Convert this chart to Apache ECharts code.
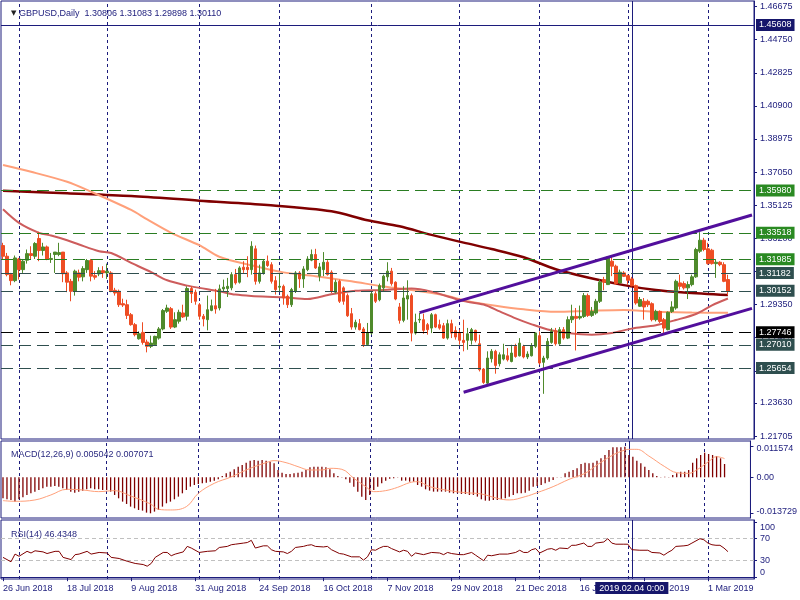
<!DOCTYPE html>
<html><head><meta charset="utf-8">
<script src="https://cdn.jsdelivr.net/npm/echarts@6/dist/echarts.min.js"></script>
<style>html,body{margin:0;padding:0;background:#fff}#c{width:800px;height:600px}</style>
</head><body><div id="c"></div><script>
// ---------- DATA ----------
const symbolName = 'GBPUSD,Daily';
// candles: [open, close, low, high]
const candles = [
[1.3278,1.3216,1.3197,1.3294],[1.3216,1.3109,1.3099,1.3235],[1.3109,1.3074,1.3047,1.3119],[1.3074,1.3206,1.3065,1.3220],
[1.3200,1.3138,1.3080,1.3206],[1.3138,1.3187,1.3119,1.3200],[1.3193,1.3231,1.3173,1.3255],[1.3231,1.3220,1.3200,1.3274],
[1.3216,1.3290,1.3200,1.3298],[1.3319,1.3249,1.3187,1.3358],[1.3249,1.3270,1.3220,1.3294],[1.3270,1.3200,1.3193,1.3278],
[1.3197,1.3203,1.3177,1.3235],[1.3226,1.3240,1.3119,1.3240],[1.3226,1.3237,1.3216,1.3294],[1.3240,1.3114,1.3065,1.3240],
[1.3119,1.3065,1.3007,1.3129],[1.3070,1.3012,1.2954,1.3084],[1.3012,1.3129,1.2987,1.3138],[1.3119,1.3094,1.3070,1.3138],
[1.3096,1.3144,1.3070,1.3158],[1.3138,1.3191,1.3119,1.3200],[1.3191,1.3100,1.3070,1.3200],[1.3103,1.3094,1.3080,1.3129],
[1.3113,1.3132,1.3100,1.3152],[1.3132,1.3119,1.3090,1.3158],[1.3119,1.3129,1.3084,1.3173],[1.3119,1.3016,1.3007,1.3129],
[1.3018,1.3002,1.2987,1.3032],[1.3012,1.2934,1.2921,1.3022],[1.2940,1.2932,1.2921,1.2969],[1.2934,1.2872,1.2851,1.2963],
[1.2876,1.2818,1.2812,1.2886],[1.2818,1.2760,1.2750,1.2828],[1.2736,1.2765,1.2731,1.2779],[1.2773,1.2715,1.2702,1.2832],
[1.2717,1.2692,1.2657,1.2731],[1.2692,1.2711,1.2682,1.2754],[1.2702,1.2750,1.2696,1.2754],[1.2740,1.2793,1.2731,1.2804],
[1.2793,1.2900,1.2785,1.2909],[1.2896,1.2915,1.2886,1.2934],[1.2911,1.2804,1.2793,1.2921],[1.2804,1.2847,1.2798,1.2890],
[1.2838,1.2890,1.2824,1.2905],[1.2886,1.2863,1.2857,1.2934],[1.2867,1.3028,1.2843,1.3041],[1.3028,1.2999,1.2944,1.3041],
[1.3007,1.2954,1.2934,1.3022],[1.2934,1.2867,1.2847,1.2944],[1.2867,1.2851,1.2808,1.2880],[1.2847,1.2905,1.2785,1.2987],
[1.2901,1.2928,1.2896,1.2964],[1.2928,1.2909,1.2882,1.3026],[1.2915,1.3026,1.2901,1.3051],[1.3026,1.3036,1.3012,1.3080],
[1.3028,1.3041,1.2979,1.3090],[1.3032,1.3109,1.3018,1.3123],[1.3109,1.3061,1.3051,1.3142],[1.3065,1.3148,1.3057,1.3158],
[1.3152,1.3138,1.3119,1.3187],[1.3152,1.3138,1.3094,1.3216],[1.3138,1.3274,1.3109,1.3303],[1.3259,1.3070,1.3051,1.3278],
[1.3070,1.3119,1.3057,1.3167],[1.3119,1.3187,1.3109,1.3200],[1.3187,1.3162,1.3154,1.3220],[1.3167,1.3070,1.3057,1.3181],
[1.3074,1.3022,1.2993,1.3100],[1.3036,1.3041,1.3012,1.3119],[1.3041,1.2973,1.2934,1.3051],[1.2983,1.2934,1.2915,1.2993],
[1.2934,1.3022,1.2921,1.3032],[1.3012,1.3119,1.3002,1.3129],[1.3119,1.3084,1.3032,1.3129],[1.3084,1.3142,1.3032,1.3158],
[1.3138,1.3200,1.3129,1.3216],[1.3193,1.3226,1.3187,1.3255],[1.3226,1.3148,1.3142,1.3259],[1.3100,1.3154,1.3070,1.3177],
[1.3138,1.3181,1.3100,1.3240],[1.3181,1.3109,1.3103,1.3193],[1.3123,1.3012,1.3002,1.3134],[1.3007,1.3065,1.2999,1.3080],
[1.3070,1.2954,1.2944,1.3080],[1.3032,1.2954,1.2934,1.3041],[1.2987,1.2870,1.2863,1.2999],[1.2882,1.2804,1.2789,1.2915],
[1.2804,1.2832,1.2789,1.2847],[1.2824,1.2789,1.2785,1.2851],[1.2793,1.2702,1.2688,1.2804],[1.2702,1.2769,1.2696,1.2828],
[1.2769,1.2998,1.2760,1.3007],[1.2998,1.2954,1.2944,1.3012],[1.2963,1.3045,1.2954,1.3057],[1.3032,1.3100,1.3012,1.3109],
[1.3096,1.3129,1.3070,1.3181],[1.3129,1.3057,1.3045,1.3148],[1.3065,1.2967,1.2960,1.3070],[1.2921,1.2843,1.2824,1.2944],
[1.2843,1.2973,1.2832,1.3041],[1.2967,1.2987,1.2847,1.3076],[1.2987,1.2769,1.2721,1.2999],[1.2769,1.2832,1.2760,1.2882],
[1.2845,1.2849,1.2828,1.2886],[1.2847,1.2785,1.2765,1.2882],[1.2818,1.2789,1.2760,1.2828],[1.2798,1.2876,1.2769,1.2886],
[1.2876,1.2804,1.2798,1.2882],[1.2818,1.2798,1.2789,1.2847],[1.2812,1.2740,1.2735,1.2828],[1.2740,1.2824,1.2731,1.2847],
[1.2824,1.2769,1.2740,1.2847],[1.2783,1.2746,1.2731,1.2808],[1.2769,1.2727,1.2702,1.2789],[1.2727,1.2715,1.2663,1.2847],
[1.2727,1.2765,1.2672,1.2799],[1.2727,1.2789,1.2702,1.2799],[1.2785,1.2727,1.2715,1.2789],[1.2707,1.2556,1.2546,1.2760],
[1.2560,1.2482,1.2474,1.2566],[1.2478,1.2624,1.2468,1.2663],[1.2620,1.2663,1.2598,1.2676],[1.2663,1.2581,1.2533,1.2672],
[1.2591,1.2643,1.2575,1.2657],[1.2618,1.2643,1.2610,1.2707],[1.2637,1.2614,1.2604,1.2682],[1.2604,1.2653,1.2599,1.2701],
[1.2692,1.2633,1.2626,1.2707],[1.2637,1.2711,1.2633,1.2740],[1.2692,1.2630,1.2622,1.2701],[1.2630,1.2647,1.2618,1.2663],
[1.2637,1.2696,1.2633,1.2711],[1.2692,1.2770,1.2682,1.2773],[1.2754,1.2595,1.2585,1.2779],[1.2599,1.2624,1.2416,1.2637],
[1.2624,1.2721,1.2614,1.2740],[1.2715,1.2779,1.2707,1.2799],[1.2783,1.2707,1.2696,1.2799],[1.2707,1.2789,1.2701,1.2804],
[1.2789,1.2740,1.2731,1.2804],[1.2740,1.2847,1.2734,1.2866],[1.2847,1.2866,1.2828,1.2934],[1.2866,1.2855,1.2668,1.2915],
[1.2857,1.2866,1.2847,1.2929],[1.2866,1.2987,1.2857,1.3002],[1.2987,1.2872,1.2863,1.2999],[1.2872,1.2895,1.2863,1.2921],
[1.2886,1.2954,1.2876,1.2968],[1.2954,1.3065,1.2944,1.3080],[1.3080,1.3065,1.3018,1.3096],[1.3051,1.3212,1.3049,1.3216],
[1.3187,1.3158,1.3100,1.3212],[1.3158,1.3057,1.3049,1.3167],[1.3061,1.3123,1.3057,1.3138],[1.3119,1.3099,1.3095,1.3129],
[1.3103,1.3076,1.3051,1.3109],[1.3084,1.3045,1.3041,1.3096],[1.3045,1.2944,1.2934,1.3051],[1.2925,1.2964,1.2921,1.2979],
[1.2954,1.2921,1.2847,1.2973],[1.2954,1.2934,1.2921,1.2964],[1.2940,1.2847,1.2837,1.2948],[1.2847,1.2895,1.2837,1.2905],
[1.2895,1.2837,1.2828,1.2901],[1.2847,1.2798,1.2769,1.2857],[1.2789,1.2890,1.2785,1.2895],[1.2895,1.2921,1.2886,1.2954],
[1.2915,1.3070,1.2905,1.3080],[1.3061,1.3041,1.3022,1.3109],[1.3057,1.3032,1.3022,1.3070],[1.3032,1.3051,1.2967,1.3070],
[1.3051,1.3096,1.3041,1.3109],[1.3096,1.3255,1.3090,1.3265],[1.3245,1.3309,1.3235,1.3356],[1.3309,1.3255,1.3245,1.3323],
[1.3259,1.3173,1.3167,1.3294],[1.3251,1.3173,1.3167,1.3259],[1.3173,1.3181,1.3090,1.3200],[1.3181,1.3167,1.3158,1.3187],
[1.3167,1.3070,1.3065,1.3181],[1.30806,1.30110,1.29898,1.31083]
];
// moving averages: [bar index, price]
const ma200 = [[0,1.3597],[16,1.3582],[32,1.3566],[49,1.3539],[66,1.3514],[82,1.3478],[91,1.3425],[99,1.3390],[107,1.3340],[115,1.3295],[122,1.3258],[130,1.3210],[138,1.3140],[146,1.3092],[155,1.3048],[163,1.3019],[170,1.3005],[181,1.2990]];
const ma100 = [[0,1.3746],[7,1.3707],[16,1.3649],[22,1.3591],[32,1.3485],[36,1.3430],[42,1.3352],[49,1.3280],[54,1.3213],[62,1.3163],[70,1.3122],[78,1.3100],[87,1.3070],[95,1.3040],[102,1.3020],[110,1.2990],[116,1.2955],[123,1.2928],[130,1.2907],[138,1.2893],[146,1.2898],[155,1.2903],[163,1.2893],[172,1.2889],[181,1.2887]];
const ma50 = [[0,1.3489],[4,1.3410],[9,1.3352],[12,1.3336],[16,1.3309],[19,1.3284],[24,1.3245],[27,1.3235],[32,1.3177],[37,1.3123],[41,1.3076],[46,1.3045],[49,1.3032],[54,1.3012],[58,1.2993],[62,1.2985],[70,1.2977],[76,1.2967],[82,1.2995],[88,1.3015],[95,1.3020],[102,1.3029],[107,1.3010],[115,1.2955],[120,1.2935],[124,1.2895],[128,1.2855],[132,1.2820],[136,1.2790],[141,1.2770],[147,1.2760],[152,1.2770],[157,1.2795],[163,1.2815],[168,1.2845],[173,1.2880],[177,1.2930],[181,1.2970]];
// channel trend lines: [bar index, price]
const channelUpper = [[104,1.2888],[187,1.3456]];
const channelLower = [[115,1.2425],[187,1.2913]];
// horizontal levels
const levelsGreen = [1.35980, 1.33518, 1.31985];
const levelsSlate = [1.31182, 1.30152, 1.27010, 1.25654];
const levelBlack = [1.27746];
const levelNavy = [1.45608];
// MACD histogram (main) per bar
const macdMain = [
-0.00794,-0.00832,-0.00857,-0.00920,-0.00832,-0.00756,-0.00668,-0.00605,-0.00542,-0.00479,
-0.00416,-0.00353,-0.00353,-0.00328,-0.00353,-0.00416,-0.00479,-0.00542,-0.00580,-0.00542,
-0.00504,-0.00454,-0.00416,-0.00454,-0.00454,-0.00479,-0.00479,-0.00542,-0.00668,-0.00794,
-0.00920,-0.01008,-0.01109,-0.01172,-0.01235,-0.01260,-0.01336,-0.01361,-0.01298,-0.01235,
-0.01109,-0.00983,-0.00920,-0.00832,-0.00731,-0.00605,-0.00479,-0.00353,-0.00290,-0.00252,
-0.00227,-0.00202,-0.00164,-0.00126,-0.00076,0.00050,0.00151,0.00214,0.00302,0.00403,
0.00466,0.00554,0.00630,0.00655,0.00630,0.00655,0.00630,0.00592,0.00529,0.00277,
0.00176,0.00126,0.00126,0.00151,0.00176,0.00214,0.00277,0.00378,0.00403,0.00403,
0.00403,0.00378,0.00302,0.00151,0.00050,-0.00010,-0.00076,-0.00202,-0.00353,-0.00542,
-0.00731,-0.00857,-0.00668,-0.00479,-0.00353,-0.00227,-0.00130,-0.00050,-0.00040,-0.00010,
-0.00126,-0.00126,-0.00164,-0.00164,-0.00290,-0.00353,-0.00454,-0.00504,-0.00542,-0.00542,
-0.00542,-0.00542,-0.00580,-0.00605,-0.00605,-0.00630,-0.00630,-0.00668,-0.00668,-0.00731,
-0.00832,-0.00882,-0.00882,-0.00857,-0.00857,-0.00832,-0.00794,-0.00731,-0.00668,-0.00605,
-0.00605,-0.00580,-0.00504,-0.00353,-0.00328,-0.00290,-0.00227,-0.00164,-0.00101,-0.00010,
0.00010,0.00151,0.00214,0.00277,0.00340,0.00504,0.00554,0.00529,0.00554,0.00630,
0.00718,0.00844,0.01033,0.01134,0.01134,0.01134,0.01159,0.00844,0.00781,0.00630,
0.00529,0.00403,0.00277,0.00151,0.00050,0.00010,0.00025,0.00010,0.00088,0.00151,
0.00214,0.00214,0.00277,0.00554,0.00718,0.00844,0.00932,0.00882,0.00844,0.00806,
0.00718,0.005042
];
// MACD signal: [bar index, value]
const macdSignal = [[0,-0.00882],[3,-0.00907],[8,-0.00857],[12,-0.00668],[16,-0.00454],[20,-0.00479],[24,-0.00542],[28,-0.00504],[32,-0.00706],[37,-0.01008],[39,-0.01210],[42,-0.01235],[46,-0.01109],[49,-0.00605],[53,-0.00227],[57,0],[62,0.0034],[66,0.00554],[68,0.0063],[71,0.00554],[74,0.00403],[77,0.00277],[80,0.00277],[82,0.0034],[85,0.00302],[88,-0.00038],[91,-0.00353],[93,-0.00542],[96,-0.00504],[99,-0.00378],[102,-0.00202],[104,-0.00164],[107,-0.00353],[112,-0.00504],[116,-0.0058],[120,-0.0063],[124,-0.00794],[127,-0.00857],[131,-0.00731],[134,-0.0058],[138,-0.00353],[142,-0.00076],[146,0.00151],[149,0.00466],[153,0.00844],[156,0.01033],[157,0.01058],[159,0.01058],[162,0.00806],[166,0.00403],[169,0.00176],[172,0.00151],[174,0.00277],[177,0.00592],[179,0.00781],[181,0.007071]];
// RSI(14): [bar index, value]
const rsi = [[0,36],[2,28],[3,42],[4,38],[6,47],[7,44],[8,48],[10,46],[11,43],[13,47],[14,47],[15,36],[17,32],[18,41],[19,42],[21,47],[22,42],[24,45],[26,44],[27,36],[29,34],[31,29],[33,25],[35,23],[36,20],[37,25],[38,36],[40,45],[41,45],[42,39],[43,42],[45,46],[46,56],[47,53],[49,45],[51,47],[53,48],[54,54],[56,56],[57,59],[58,60],[60,62],[61,63],[62,67],[63,53],[65,57],[66,57],[67,50],[68,47],[70,46],[71,43],[72,47],[73,54],[75,56],[76,58],[77,59],[78,56],[80,55],[81,56],[82,50],[84,43],[85,42],[87,37],[89,37],[90,31],[91,37],[92,50],[93,49],[94,53],[95,56],[96,56],[97,52],[99,46],
[100,49],[101,47],[102,38],[103,44],[105,41],[107,45],[109,44],[110,41],[111,45],[112,43],[114,41],[115,41],[117,45],[118,40],[120,30],[121,40],[122,39],[124,42],[126,42],[128,45],[129,49],[130,45],[131,45],[132,50],[133,52],[134,44],[136,51],[137,52],[138,49],[139,53],[141,52],[142,58],[143,58],[145,62],[146,56],[147,56],[148,62],[150,64],[151,70],[152,62],[153,60],[155,60],[156,60],[157,50],[159,49],[161,49],[162,45],[164,44],[165,40],[166,45],[167,49],[168,56],[170,57],[171,58],[172,62],[174,70],[175,68],[176,62],[177,59],[178,58],[179,58],[180,53],[181,46.4348]];
const mainTicks = [1.46675,1.44750,1.42825,1.40900,1.38975,1.37050,1.35125,1.33200,1.31275,1.29350,1.27425,1.25500,1.23630,1.21705];
const macdTicks = [0.011574, 0, -0.013729];
const rsiTicks = [100, 70, 30, 0];
const cursorDateLabel = '2019.02.04 0:00';

// ---------- categories (trading days) ----------
const MON = ['Jan','Feb','Mar','Apr','May','Jun','Jul','Aug','Sep','Oct','Nov','Dec'];
const holidays = ['2018-12-25','2019-01-01'];
const categories = [], monthOf = [];
for (let d = new Date(Date.UTC(2018,5,26)); categories.length < 188; d.setUTCDate(d.getUTCDate()+1)) {
  const wd = d.getUTCDay(); if (wd === 0 || wd === 6) continue;
  if (holidays.includes(d.toISOString().slice(0,10))) continue;
  categories.push(d.getUTCDate()+' '+MON[d.getUTCMonth()]+' '+d.getUTCFullYear());
  monthOf.push(d.getUTCMonth());
}
const monthStarts = [];
for (let i = 1; i < monthOf.length; i++) if (monthOf[i] !== monthOf[i-1]) monthStarts.push(i);
const cursorIdx = categories.indexOf('4 Feb 2019');
const lastIdx = candles.length - 1;

// ---------- style ----------
const NAVY = '#1c1c7c', FONT = 'Liberation Sans', TXT = '#1c1c7c';
const vGrid = monthStarts.map(i => ({xAxis: i}));
const vLineStyle = {color: NAVY, width: 1, type: [3, 3]};
function levelLine(v, color, bg, type) {
  return {yAxis: v, lineStyle: {color: color, width: 1, type: type},
    label: {show: true, position: 'end', distance: 2, formatter: v.toFixed(5), color: '#fff',
      backgroundColor: bg, padding: [2, 3, 1, 3], fontSize: 9, fontFamily: FONT}};
}
const levelData = []
  .concat(levelNavy.map(v => levelLine(v, NAVY, '#16166b', 'solid')))
  .concat(levelsGreen.map(v => levelLine(v, '#2a7d22', '#2a8a22', [12, 6])))
  .concat(levelsSlate.map(v => levelLine(v, '#2f4f4f', '#2f4f4f', [12, 6])))
  .concat(levelBlack.map(v => levelLine(v, '#000', '#000', [12, 6])));
const cursorLine = {xAxis: cursorIdx, lineStyle: {color: NAVY, width: 1, type: 'solid'}};

const lastC = candles[lastIdx];
const headerText = '{t|▼} ' + symbolName + '  ' + [lastC[0], lastC[3], lastC[2], lastC[1]].map(v => v.toFixed(5)).join(' ');
const macdText = 'MACD(12,26,9) ' + macdMain[lastIdx].toFixed(6) + ' ' + macdSignal[macdSignal.length-1][1].toFixed(6);
const rsiText = 'RSI(14) ' + rsi[rsi.length-1][1].toFixed(4);

const grids = [
  {left: 1, right: 46, top: 1, height: 438},
  {left: 1, right: 46, top: 441, height: 77},
  {left: 1, right: 46, top: 520, height: 59}
].map(g => Object.assign(g, {show: true, borderColor: NAVY, borderWidth: 1, backgroundColor: '#fff'}));

function xAx(gi, show) {
  return {type: 'category', gridIndex: gi, data: categories, boundaryGap: true,
    axisLine: {show: show, lineStyle: {color: NAVY}},
    axisTick: {show: show, alignWithLabel: true, length: 4, interval: (i) => i % 16 === 0 && i <= lastIdx, lineStyle: {color: NAVY}},
    axisLabel: {show: show, interval: (i) => i % 16 === 0 && i <= lastIdx, align: 'left', margin: 5,
      color: TXT, fontSize: 9, fontFamily: FONT, hideOverlap: false},
    splitLine: {show: false}};
}
const RICH = {
  dn2: {padding: [4, 0, 0, 0], color: TXT, fontSize: 9, fontFamily: FONT},
  up2: {padding: [0, 0, 5, 0], color: TXT, fontSize: 9, fontFamily: FONT},
  dn5: {padding: [10, 0, 0, 0], color: TXT, fontSize: 9, fontFamily: FONT},
  up5: {padding: [0, 0, 10, 0], color: TXT, fontSize: 9, fontFamily: FONT}
};
function yAx(gi, min, max, ticks, fmt) {
  return {type: 'value', gridIndex: gi, position: 'right', min: min, max: max, scale: true,
    axisLine: {show: true, lineStyle: {color: NAVY}},
    axisTick: {show: true, length: 3, customValues: ticks, lineStyle: {color: NAVY}},
    axisLabel: {show: true, customValues: ticks, formatter: fmt, margin: 6, color: TXT, fontSize: 9, fontFamily: FONT, rich: RICH},
    splitLine: {show: false}};
}

const option = {
  animation: false,
  backgroundColor: '#fff',
  title: [
    {left: 6, top: 4, text: headerText, textStyle: {fontSize: 9, fontWeight: 'normal', color: TXT, fontFamily: FONT,
      rich: {t: {fontSize: 7, color: '#222', fontFamily: 'DejaVu Sans'}}}},
    {left: 6, top: 445, text: macdText, textStyle: {fontSize: 9, fontWeight: 'normal', color: '#2a2a80', fontFamily: FONT}},
    {left: 6, top: 525, text: rsiText, textStyle: {fontSize: 9, fontWeight: 'normal', color: '#2a2a80', fontFamily: FONT}}
  ],
  grid: grids,
  xAxis: [xAx(0, false), xAx(1, false), xAx(2, true)],
  yAxis: [
    yAx(0, 1.21532, 1.47000, mainTicks, v => v.toFixed(5)),
    yAx(1, -0.01539, 0.01373, macdTicks, v => v === 0 ? '0.00' : (v > 0 ? '{dn2|' + v.toFixed(6) + '}' : '{up2|' + v.toFixed(6) + '}')),
    yAx(2, -3.3, 104, rsiTicks, v => v === 100 ? '{dn5|100}' : (v === 0 ? '{up5|0}' : String(v)))
  ],
  series: [
    {type: 'line', xAxisIndex: 0, yAxisIndex: 0, data: [], z: 1, silent: true,
      markLine: {silent: true, symbol: ['none','none'], z: 1, label: {show: false}, lineStyle: vLineStyle, data: vGrid.concat([cursorLine])}},
    {type: 'line', name: 'MA200', xAxisIndex: 0, yAxisIndex: 0, data: ma200, showSymbol: false, smooth: 0.3, z: 2,
      lineStyle: {color: '#800000', width: 2.5}},
    {type: 'line', name: 'MA100', xAxisIndex: 0, yAxisIndex: 0, data: ma100, showSymbol: false, smooth: 0.3, z: 2,
      lineStyle: {color: '#ffa07a', width: 2}},
    {type: 'line', name: 'MA50', xAxisIndex: 0, yAxisIndex: 0, data: ma50, showSymbol: false, smooth: 0.3, z: 2,
      lineStyle: {color: '#cd5c5c', width: 2}},
    {type: 'candlestick', xAxisIndex: 0, yAxisIndex: 0, data: candles, barWidth: 3, z: 3,
      itemStyle: {color: '#4f8a2b', color0: '#ee4d24', borderColor: '#4f8a2b', borderColor0: '#ee4d24', borderWidth: 1},
      markLine: {silent: true, precision: 6, symbol: ['none','none'], z: 4, data: levelData}},
    {type: 'line', xAxisIndex: 0, yAxisIndex: 0, data: channelUpper, showSymbol: false, z: 5,
      lineStyle: {color: '#520f9c', width: 3}},
    {type: 'line', xAxisIndex: 0, yAxisIndex: 0, data: channelLower, showSymbol: false, z: 5,
      lineStyle: {color: '#520f9c', width: 3}},
    {type: 'bar', xAxisIndex: 1, yAxisIndex: 1, data: macdMain, barWidth: 1.3, itemStyle: {color: '#800000'}, z: 2,
      markLine: {silent: true, symbol: ['none','none'], z: 1, label: {show: false}, lineStyle: vLineStyle, data: vGrid.concat([cursorLine])}},
    {type: 'line', xAxisIndex: 1, yAxisIndex: 1, data: macdSignal, showSymbol: false, smooth: 0.4, z: 3,
      lineStyle: {color: '#ffa07a', width: 1}},
    {type: 'line', xAxisIndex: 2, yAxisIndex: 2, data: rsi, showSymbol: false, z: 3,
      lineStyle: {color: '#800000', width: 1},
      markLine: {silent: true, symbol: ['none','none'], z: 1, label: {show: false}, lineStyle: vLineStyle,
        data: vGrid.concat([
          {yAxis: 70, lineStyle: {color: '#c0c0c0', type: [4, 3], width: 1}},
          {yAxis: 30, lineStyle: {color: '#c0c0c0', type: [4, 3], width: 1}},
          Object.assign({}, cursorLine, {label: {show: true, position: 'start', distance: 3, formatter: cursorDateLabel,
            color: '#fff', backgroundColor: '#16166b', padding: [2, 4, 1, 4], fontSize: 9, fontFamily: FONT}})
        ])}}
  ]
};
const chart = echarts.init(document.getElementById('c'), null, {renderer: 'canvas'});
chart.setOption(option);
</script></body></html>
